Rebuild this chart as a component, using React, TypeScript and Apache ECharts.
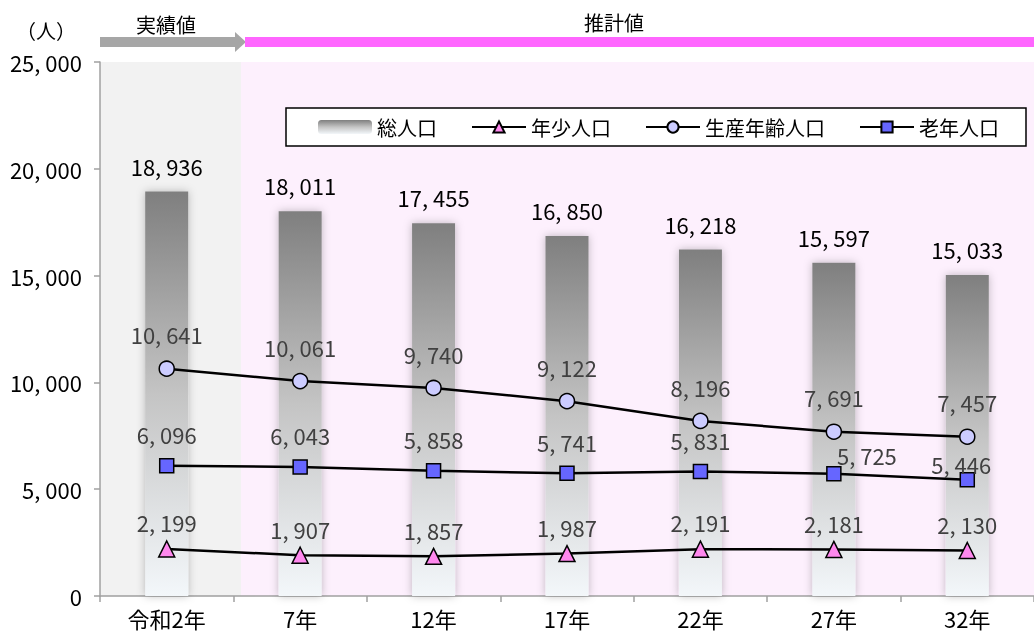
import React, { useEffect, useRef } from "react";
import * as echarts from "echarts";

const categories = ["令和2年", "7年", "12年", "17年", "22年", "27年", "32年"];
const totalPop = [18936, 18011, 17455, 16850, 16218, 15597, 15033];
const youngPop = [2199, 1907, 1857, 1987, 2191, 2181, 2130];
const workingPop = [10641, 10061, 9740, 9122, 8196, 7691, 7457];
const elderlyPop = [6096, 6043, 5858, 5741, 5831, 5725, 5446];
const yTicks = { min: 0, max: 25000, interval: 5000 };

const FONT = "'Noto Sans CJK JP', 'Noto Sans', sans-serif";
const NUM = 22;
const fmt = (v: number) => v.toLocaleString("en-US").replace(/,/g, ", ");

export default function App() {
  const ref = useRef<HTMLDivElement>(null);
  useEffect(() => {
    if (!ref.current) return;
    const chart = echarts.init(ref.current, undefined, { renderer: "svg" });
    const lineLabel = (distance: number) => ({
      show: true,
      position: "top" as const,
      distance,
      color: "#404040",
      fontSize: NUM,
      fontFamily: FONT,
      formatter: (p: any) => fmt(p.value),
    });
    const elderlyData = elderlyPop.map((v, i) =>
      i === 5 ? { value: v, label: { offset: [33, 13] } } : i === 6 ? { value: v, label: { offset: [-6, 16] } } : v
    );
    chart.setOption({
      animation: false,
      textStyle: { fontFamily: FONT },
      grid: { left: 100, right: 0, top: 62, bottom: 39 },
      graphic: [
        { type: "rect", z: 0, shape: { x: 100, y: 62, width: 141, height: 534 }, style: { fill: "#f2f2f2" }, silent: true },
        { type: "rect", z: 0, shape: { x: 241, y: 62, width: 793, height: 534 }, style: { fill: "#fdf0fd" }, silent: true },
        { type: "rect", shape: { x: 100, y: 37, width: 136, height: 10 }, style: { fill: "#a6a6a6" } },
        { type: "polygon", shape: { points: [[235, 32], [246, 42], [235, 52]] }, style: { fill: "#a6a6a6" } },
        { type: "rect", shape: { x: 245, y: 37, width: 789, height: 10 }, style: { fill: "#ff66ff" } },
        { type: "text", x: 46, y: 30, style: { text: "（人）", fontSize: 20, fontFamily: FONT, fill: "#000", align: "center", verticalAlign: "middle" } },
        { type: "text", x: 166, y: 24, style: { text: "実績値", fontSize: 20, fontFamily: FONT, fill: "#000", align: "center", verticalAlign: "middle" } },
        { type: "text", x: 614, y: 22, style: { text: "推計値", fontSize: 20, fontFamily: FONT, fill: "#000", align: "center", verticalAlign: "middle" } },
      ],
      legend: {
        left: 286,
        top: 108,
        padding: [9, 27, 9, 32],
        itemGap: 34,
        itemWidth: 54,
        itemHeight: 14,
        backgroundColor: "#fff",
        borderColor: "#000",
        borderWidth: 1.5,
        textStyle: { fontSize: 20, fontFamily: FONT, color: "#000" },
        data: ["総人口", "年少人口", "生産年齢人口", "老年人口"],
      },
      xAxis: {
        type: "category",
        data: categories,
        axisLine: { lineStyle: { color: "#a0a0a0", width: 1.5 } },
        axisTick: { show: true, length: 6, lineStyle: { color: "#a0a0a0", width: 1.5 } },
        axisLabel: { color: "#000", fontSize: 22, fontFamily: FONT, margin: 11 },
      },
      yAxis: {
        type: "value",
        ...yTicks,
        splitLine: { show: false },
        axisLine: { show: true, lineStyle: { color: "#a0a0a0", width: 1.5 } },
        axisTick: { show: true, length: 6, lineStyle: { color: "#a0a0a0", width: 1.5 } },
        axisLabel: { color: "#000", fontSize: NUM, fontFamily: FONT, margin: 18, formatter: (v: number) => fmt(v) },
      },
      series: [
        {
          name: "総人口",
          type: "bar",
          data: totalPop,
          barWidth: 43,
          itemStyle: {
            color: new echarts.graphic.LinearGradient(0, 0, 0, 1, [
              { offset: 0, color: "#7f7f7f" },
              { offset: 0.5, color: "#c4c4c4" },
              { offset: 1, color: "#f3f7fa" },
            ]),
            shadowBlur: 8,
            shadowColor: "rgba(0,0,0,0.25)",
          },
          label: { show: true, position: "top", distance: 15, color: "#000", fontSize: NUM, fontFamily: FONT, formatter: (p: any) => fmt(p.value) },
        },
        {
          name: "年少人口",
          type: "line",
          data: youngPop,
          symbol: "triangle",
          symbolSize: 16,
          itemStyle: { color: "#ff88ee", borderColor: "#000", borderWidth: 1.5 },
          lineStyle: { color: "#000", width: 2.5 },
          label: lineLabel(7),
        },
        {
          name: "生産年齢人口",
          type: "line",
          data: workingPop,
          symbol: "circle",
          symbolSize: 15,
          itemStyle: { color: "#ccccff", borderColor: "#000", borderWidth: 1.5 },
          lineStyle: { color: "#000", width: 2.5 },
          label: lineLabel(15),
        },
        {
          name: "老年人口",
          type: "line",
          data: elderlyData,
          symbol: "rect",
          symbolSize: 14,
          itemStyle: { color: "#6666ff", borderColor: "#000", borderWidth: 1.5 },
          lineStyle: { color: "#000", width: 2.5 },
          label: lineLabel(13),
        },
      ],
    });
    return () => chart.dispose();
  }, []);
  return <div ref={ref} style={{ position: "fixed", left: 0, top: 0, width: 1034, height: 635 }} />;
}
